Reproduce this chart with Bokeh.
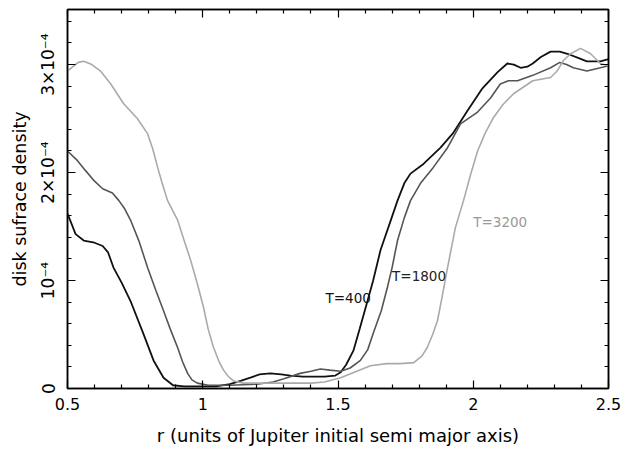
from bokeh.plotting import figure
from bokeh.models import Range1d, FixedTicker, LinearAxis, Label
from bokeh.embed import file_html
from bokeh.resources import INLINE

# radius (units of Jupiter initial semi-major axis), density in units of 1e-4
r_400 = [0.50, 0.53, 0.56, 0.60, 0.63, 0.65, 0.67, 0.70, 0.733, 0.78, 0.818, 0.855, 0.89, 0.93,
         1.00, 1.05, 1.10, 1.14, 1.176, 1.21, 1.25, 1.29, 1.324, 1.37, 1.41, 1.45, 1.49, 1.51,
         1.53, 1.557, 1.58, 1.609, 1.63, 1.657, 1.69, 1.72, 1.745, 1.768, 1.816, 1.879, 1.927,
         1.978, 2.034, 2.09, 2.126, 2.15, 2.175, 2.20, 2.22, 2.25, 2.286, 2.32, 2.348, 2.39,
         2.42, 2.47, 2.50]
d_400 = [1.62, 1.43, 1.37, 1.35, 1.32, 1.26, 1.12, 0.98, 0.81, 0.51, 0.26, 0.10, 0.03, 0.02,
         0.02, 0.02, 0.04, 0.07, 0.10, 0.13, 0.14, 0.13, 0.12, 0.11, 0.11, 0.11, 0.12, 0.15,
         0.22, 0.35, 0.55, 0.81, 1.00, 1.28, 1.52, 1.74, 1.90, 1.99, 2.08, 2.23, 2.37,
         2.57, 2.78, 2.93, 3.01, 3.00, 2.97, 2.98, 3.01, 3.07, 3.12, 3.12, 3.10, 3.06,
         3.03, 3.03, 3.05]

r_1800 = [0.50, 0.537, 0.566, 0.596, 0.63, 0.666, 0.69, 0.71, 0.733, 0.765, 0.796, 0.825, 0.855,
          0.88, 0.907, 0.925, 0.944, 0.96, 0.98, 1.02, 1.10, 1.20, 1.26, 1.30, 1.36, 1.40, 1.435,
          1.47, 1.51, 1.545, 1.583, 1.61, 1.63, 1.66, 1.683, 1.70, 1.72, 1.745, 1.768, 1.805,
          1.853, 1.905, 1.953, 2.016, 2.064, 2.10, 2.13, 2.164, 2.22, 2.286, 2.32, 2.345, 2.37,
          2.42, 2.47, 2.50]
d_1800 = [2.20, 2.11, 2.02, 1.93, 1.85, 1.81, 1.74, 1.67, 1.56, 1.36, 1.12, 0.92, 0.72,
          0.55, 0.38, 0.25, 0.14, 0.08, 0.05, 0.03, 0.03, 0.04, 0.06, 0.09, 0.14, 0.16, 0.18,
          0.17, 0.16, 0.19, 0.26, 0.36, 0.51, 0.72, 0.94, 1.12, 1.37, 1.58, 1.74, 1.90,
          2.05, 2.23, 2.45, 2.56, 2.69, 2.82, 2.85, 2.85, 2.90, 2.97, 3.02, 3.00, 2.97,
          2.94, 2.97, 2.99]

r_3200 = [0.50, 0.52, 0.54, 0.56, 0.59, 0.622, 0.66, 0.707, 0.758, 0.796, 0.815, 0.833, 0.85,
          0.87, 0.907, 0.93, 0.955, 0.98, 1.003, 1.02, 1.04, 1.06, 1.077, 1.095, 1.114, 1.15,
          1.20, 1.30, 1.40, 1.45, 1.51, 1.56, 1.62, 1.68, 1.73, 1.78, 1.81, 1.83, 1.85, 1.868,
          1.885, 1.905, 1.934, 1.964, 1.99, 2.016, 2.045, 2.075, 2.11, 2.149, 2.22, 2.286,
          2.31, 2.334, 2.36, 2.397, 2.434, 2.47, 2.50]
d_3200 = [2.94, 2.98, 3.02, 3.03, 3.00, 2.94, 2.82, 2.64, 2.50, 2.36, 2.22, 2.05, 1.90,
          1.74, 1.56, 1.38, 1.19, 0.97, 0.75, 0.55, 0.38, 0.25, 0.17, 0.11, 0.07, 0.05,
          0.05, 0.05, 0.05, 0.06, 0.10, 0.15, 0.21, 0.23, 0.23, 0.24, 0.30, 0.38, 0.50, 0.63,
          0.85, 1.12, 1.49, 1.74, 1.98, 2.20, 2.37, 2.51, 2.63, 2.73, 2.85, 2.88,
          2.94, 3.04, 3.10, 3.15, 3.10, 3.01, 2.99]

x_ticks = [0.5, 1.0, 1.5, 2.0, 2.5]
x_minor = [0.6, 0.7, 0.8, 0.9, 1.1, 1.2, 1.3, 1.4, 1.6, 1.7, 1.8, 1.9, 2.1, 2.2, 2.3, 2.4]
y_ticks = [0, 1, 2, 3]
y_minor = [0.2, 0.4, 0.6, 0.8, 1.2, 1.4, 1.6, 1.8, 2.2, 2.4, 2.6, 2.8, 3.2, 3.4]
y_tick_labels = {0: "0", 1: "10\u207b\u2074", 2: "2\u00d710\u207b\u2074", 3: "3\u00d710\u207b\u2074"}

FONT = "DejaVu Sans"

p = figure(width=634, height=450, output_backend="svg", toolbar_location=None,
           x_range=Range1d(0.5, 2.5), y_range=Range1d(0, 3.51),
           x_axis_location=None, y_axis_location=None,
           min_border_left=67, min_border_right=26, min_border_top=9, min_border_bottom=62)
p.grid.visible = False
p.outline_line_color = "black"
p.outline_line_width = 1.5
p.background_fill_color = "white"
p.border_fill_color = "white"

xt = FixedTicker(ticks=x_ticks, minor_ticks=x_minor)
yt = FixedTicker(ticks=y_ticks, minor_ticks=y_minor)


def style(ax, show_labels):
    ax.axis_line_color = "black"
    ax.axis_line_width = 1.5
    ax.major_tick_in = 8
    ax.major_tick_out = 0
    ax.minor_tick_in = 4
    ax.minor_tick_out = 0
    ax.major_tick_line_width = 1.2
    ax.minor_tick_line_width = 1.2
    ax.major_tick_line_color = "black"
    ax.minor_tick_line_color = "black"
    ax.major_label_text_font = FONT
    ax.axis_label_text_font = FONT
    ax.axis_label_text_font_style = "normal"
    ax.axis_label_text_color = "black"
    if show_labels:
        ax.major_label_text_color = "black"
    else:
        ax.major_label_text_color = None
        ax.major_label_text_font_size = "0px"
        ax.major_label_standoff = 0


xb = LinearAxis(ticker=xt, axis_label="r (units of Jupiter initial semi major axis)")
style(xb, True)
xb.major_label_text_font_size = "16px"
xb.major_label_standoff = 9
xb.axis_label_text_font_size = "18px"
xb.axis_label_standoff = 12
p.add_layout(xb, "below")

xa = LinearAxis(ticker=xt)
style(xa, False)
p.add_layout(xa, "above")

yl = LinearAxis(ticker=yt, axis_label="disk sufrace density")
style(yl, True)
yl.major_label_overrides = y_tick_labels
yl.major_label_orientation = "vertical"
yl.major_label_text_font_size = "17px"
yl.major_label_standoff = 9
yl.axis_label_text_font_size = "17.5px"
yl.axis_label_standoff = 6
p.add_layout(yl, "left")

yr = LinearAxis(ticker=yt)
style(yr, False)
p.add_layout(yr, "right")

p.line(r_400, d_400, line_color="#111111", line_width=1.8)
p.line(r_1800, d_1800, line_color="#555555", line_width=1.6)
p.line(r_3200, d_3200, line_color="#aaaaaa", line_width=1.6)

for txt, x, y, c in [("T=400", 1.454, 0.84, "#111111"),
                     ("T=1800", 1.70, 1.04, "#222222"),
                     ("T=3200", 2.0, 1.54, "#999999")]:
    p.add_layout(Label(x=x, y=y, text=txt, text_font=FONT, text_font_size="13.5px",
                       text_color=c, text_baseline="middle", text_align="left"))

open("out.html", "w").write(file_html(p, INLINE))
